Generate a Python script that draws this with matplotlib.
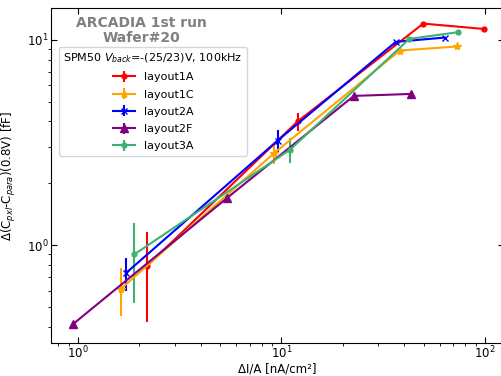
import numpy as np
import matplotlib
matplotlib.use('Agg')
import matplotlib.pyplot as plt

# data
x_1A = [2.18, 12.0, 49.8, 99.0]
y_1A = [0.79, 4.0, 12.0, 11.3]
e_1A = [0.37, 0.40, 0.0, 0.0]

x_1C = [1.62, 9.19, 38.2, 73.1]
y_1C = [0.61, 2.80, 8.87, 9.28]
e_1C = [0.16, 0.33, 0.0, 0.0]

x_2A = [1.72, 9.58, 36.5, 63.6]
y_2A = [0.73, 3.23, 9.78, 10.26]
e_2A = [0.135, 0.40, 0.0, 0.0]

x_2F = [0.94, 5.38, 22.7, 43.6]
y_2F = [0.41, 1.69, 5.33, 5.45]
e_2F = [0.0, 0.0, 0.0, 0.0]

x_3A = [1.89, 11.0, 42.5, 73.9]
y_3A = [0.90, 2.91, 10.1, 10.9]
e_3A = [0.38, 0.40, 0.0, 0.0]

series = [
    ('layout1A', x_1A, y_1A, e_1A, 'red', 'o', 3.5),
    ('layout1C', x_1C, y_1C, e_1C, 'orange', '*', 6),
    ('layout2A', x_2A, y_2A, e_2A, 'blue', 'x', 5),
    ('layout2F', x_2F, y_2F, e_2F, 'purple', '^', 5.5),
    ('layout3A', x_3A, y_3A, e_3A, 'mediumseagreen', 'o', 3.5),
]

fig = plt.figure(figsize=(5.02, 3.76), dpi=100)
ax = fig.add_axes([0.1016, 0.0878, 0.902, 0.891])

for name, xs, ys, es, col, mk, ms in series:
    ax.errorbar(xs, ys, yerr=es, color=col, marker=mk, ms=ms, lw=1.5,
                elinewidth=1.5, capsize=0, label=name)

ax.set_xscale('log')
ax.set_yscale('log')
ax.set_xlim(0.736, 124)
ax.set_ylim(0.333, 14.3)

ax.tick_params(which='major', direction='in', top=True, right=True,
               labelsize=8.5, length=4, pad=1.5)
ax.tick_params(which='minor', labelsize=0)

ax.set_xlabel('ΔI/A [nA/cm²]', fontsize=8.5)
ax.set_ylabel(r'$\Delta$(C$_{pxl}$-C$_{para}$)(0.8V) [fF]', fontsize=8.5)
ax.xaxis.set_label_coords(0.5, -0.058)
ax.yaxis.set_label_coords(-0.073, 0.5)

ax.text(0.2, 0.932, 'ARCADIA 1st run\nWafer#20', transform=ax.transAxes,
        ha='center', va='center', color='gray', fontsize=10, fontweight='bold',
        linespacing=1.1)

leg = ax.legend(title=r'SPM50 $V_{back}$=-(25/23)V, 100kHz', loc='upper left',
                bbox_to_anchor=(0.005, 0.9), fontsize=8, title_fontsize=8,
                borderpad=0.4, labelspacing=0.65, handletextpad=0.8,
                alignment='center')

fig.savefig('out.png', dpi=100)
